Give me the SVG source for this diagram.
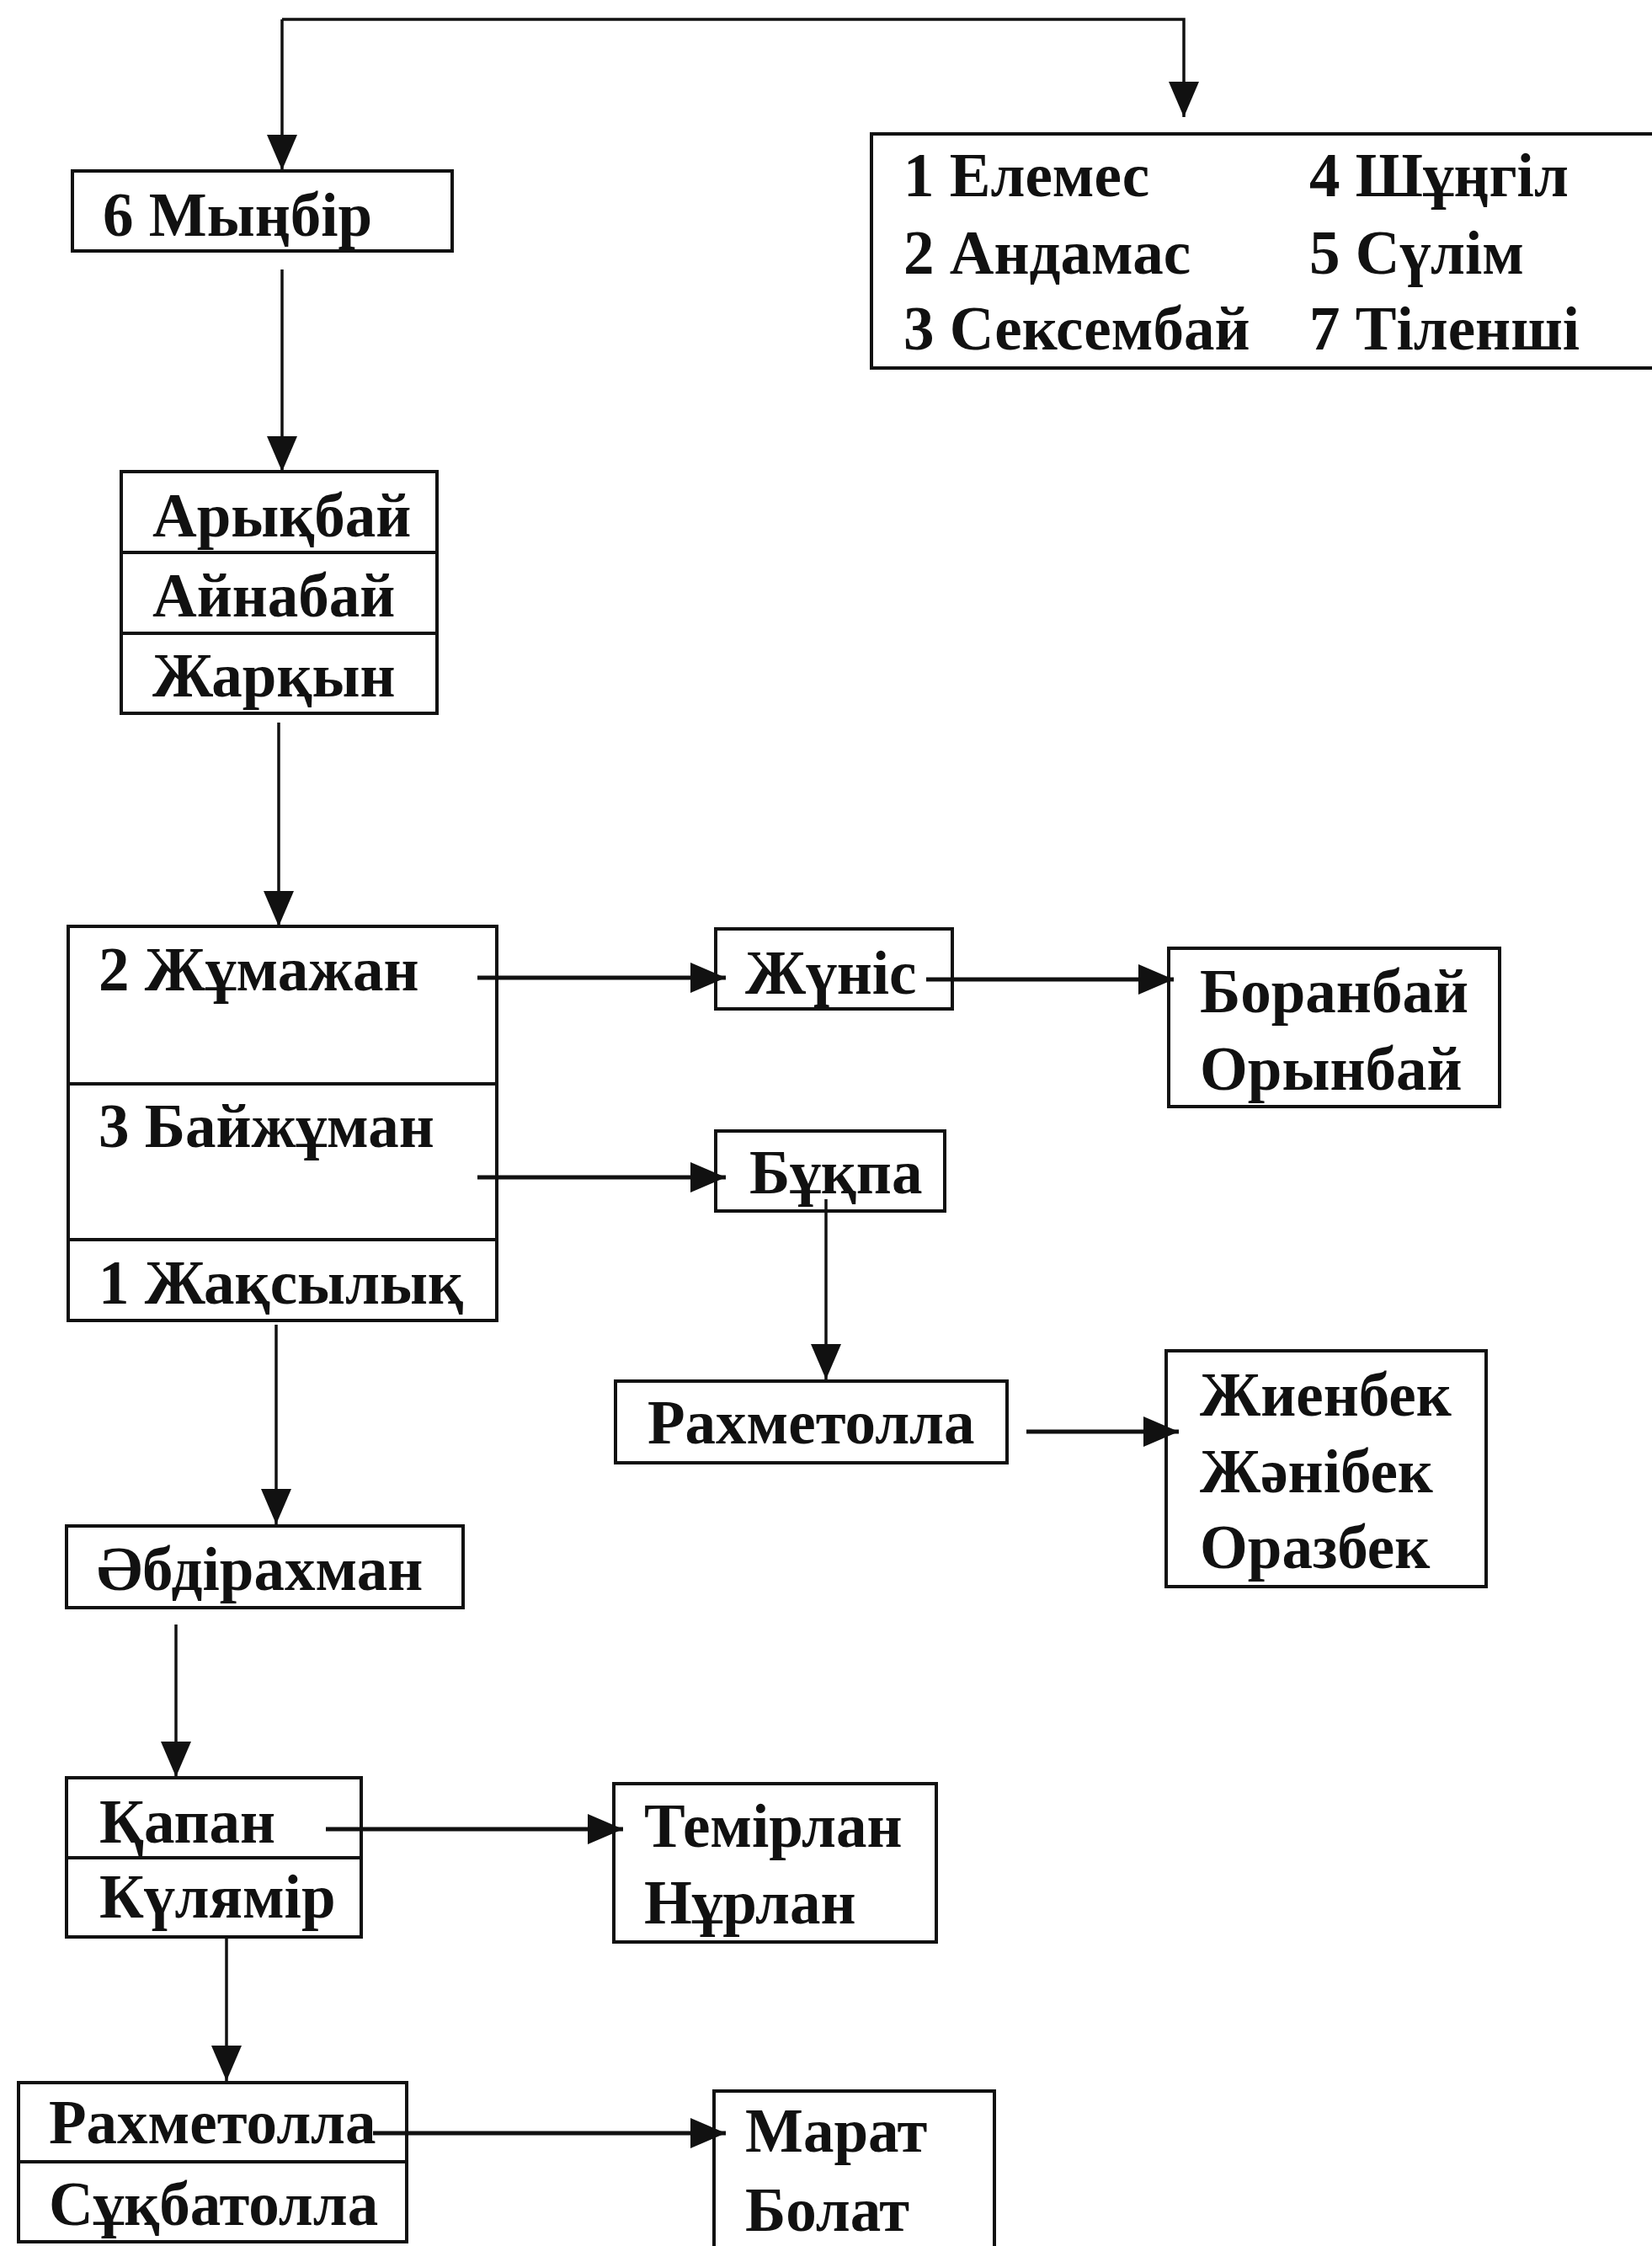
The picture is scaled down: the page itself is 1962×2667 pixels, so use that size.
<svg xmlns="http://www.w3.org/2000/svg" width="1962" height="2667" viewBox="0 0 1962 2667">
<style>
.box{fill:none;stroke:#111;stroke-width:4}
.div{stroke:#111;stroke-width:4}
.t{font-family:"Liberation Serif","Times New Roman",serif;font-weight:bold;font-size:73px;fill:#111}
.v{stroke:#111;stroke-width:3.5;fill:none}
.h{stroke:#111;stroke-width:5;fill:none}
</style>
<defs>
<marker id="ah" markerUnits="userSpaceOnUse" markerWidth="44" markerHeight="36" refX="42" refY="18" orient="auto">
<path d="M0,0 L42,18 L0,36 Z" fill="#111"/>
</marker>
</defs>
<rect width="1962" height="2667" fill="#fff"/>
<g id="connectors">
<path class="v" d="M335,23 H1406 V139" marker-end="url(#ah)"/>
<path class="v" d="M335,23 V202" marker-end="url(#ah)"/>
<path class="v" d="M335,320 V560" marker-end="url(#ah)"/>
<path class="v" d="M331,858 V1100" marker-end="url(#ah)"/>
<path class="h" d="M567,1161 H862" marker-end="url(#ah)"/>
<path class="h" d="M1100,1163 H1394" marker-end="url(#ah)"/>
<path class="h" d="M567,1398 H862" marker-end="url(#ah)"/>
<path class="v" d="M981,1424 V1638" marker-end="url(#ah)"/>
<path class="h" d="M1219,1700 H1400" marker-end="url(#ah)"/>
<path class="v" d="M328,1573 V1810" marker-end="url(#ah)"/>
<path class="v" d="M209,1929 V2110" marker-end="url(#ah)"/>
<path class="h" d="M387,2172 H740" marker-end="url(#ah)"/>
<path class="v" d="M269,2300 V2471" marker-end="url(#ah)"/>
<path class="h" d="M443,2533 H862" marker-end="url(#ah)"/>
</g>
<g id="legend">
<rect class="box" x="1035" y="159" width="940" height="278"/>
<text class="t" x="1073" y="233">1 Елемес</text>
<text class="t" x="1073" y="325">2 Андамас</text>
<text class="t" x="1073" y="415">3 Сексембай</text>
<text class="t" x="1555" y="233">4 Шұңгіл</text>
<text class="t" x="1555" y="325">5 Сүлім</text>
<text class="t" x="1555" y="415">7 Тіленші</text>
</g>
<g id="myngbir">
<rect class="box" x="86" y="203" width="451" height="95"/>
<text class="t" x="122" y="280">6 Мыңбір</text>
</g>
<g id="arykbai">
<rect class="box" x="144" y="560" width="375" height="287"/>
<line class="div" x1="144" y1="656" x2="519" y2="656"/>
<line class="div" x1="144" y1="752" x2="519" y2="752"/>
<text class="t" x="181" y="637">Арықбай</text>
<text class="t" x="181" y="732">Айнабай</text>
<text class="t" x="181" y="827">Жарқын</text>
</g>
<g id="zhumazhan">
<rect class="box" x="81" y="1100" width="509" height="468"/>
<line class="div" x1="81" y1="1287" x2="590" y2="1287"/>
<line class="div" x1="81" y1="1472" x2="590" y2="1472"/>
<text class="t" x="117" y="1176">2 Жұмажан</text>
<text class="t" x="117" y="1362">3 Байжұман</text>
<text class="t" x="117" y="1548">1 Жақсылық</text>
</g>
<g id="zhunis">
<rect class="box" x="850" y="1103" width="281" height="95"/>
<text class="t" x="885" y="1180">Жүніс</text>
</g>
<g id="boranbai">
<rect class="box" x="1388" y="1126" width="393" height="188"/>
<text class="t" x="1425" y="1202">Боранбай</text>
<text class="t" x="1425" y="1294">Орынбай</text>
</g>
<g id="bukpa">
<rect class="box" x="850" y="1343" width="272" height="95"/>
<text class="t" x="890" y="1417">Бұқпа</text>
</g>
<g id="rakhmetolla1">
<rect class="box" x="731" y="1640" width="465" height="97"/>
<text class="t" x="769" y="1714">Рахметолла</text>
</g>
<g id="zhienbek">
<rect class="box" x="1385" y="1604" width="380" height="280"/>
<text class="t" x="1425" y="1681">Жиенбек</text>
<text class="t" x="1425" y="1772">Жәнібек</text>
<text class="t" x="1425" y="1862">Оразбек</text>
</g>
<g id="abdirakhman">
<rect class="box" x="79" y="1812" width="471" height="97"/>
<text class="t" x="115" y="1888">Әбдірахман</text>
</g>
<g id="kapan">
<rect class="box" x="79" y="2111" width="350" height="189"/>
<line class="div" x1="79" y1="2206" x2="429" y2="2206"/>
<text class="t" x="118" y="2188">Қапан</text>
<text class="t" x="118" y="2277">Күлямір</text>
</g>
<g id="temirlan">
<rect class="box" x="729" y="2118" width="383" height="188"/>
<text class="t" x="765" y="2193">Темірлан</text>
<text class="t" x="765" y="2284">Нұрлан</text>
</g>
<g id="rakhmetolla2">
<rect class="box" x="22" y="2473" width="461" height="189"/>
<line class="div" x1="22" y1="2567" x2="483" y2="2567"/>
<text class="t" x="58" y="2545">Рахметолла</text>
<text class="t" x="58" y="2642">Сұқбатолла</text>
</g>
<g id="marat">
<rect class="box" x="848" y="2483" width="333" height="200"/>
<text class="t" x="885" y="2555">Марат</text>
<text class="t" x="885" y="2649">Болат</text>
</g>
</svg>
